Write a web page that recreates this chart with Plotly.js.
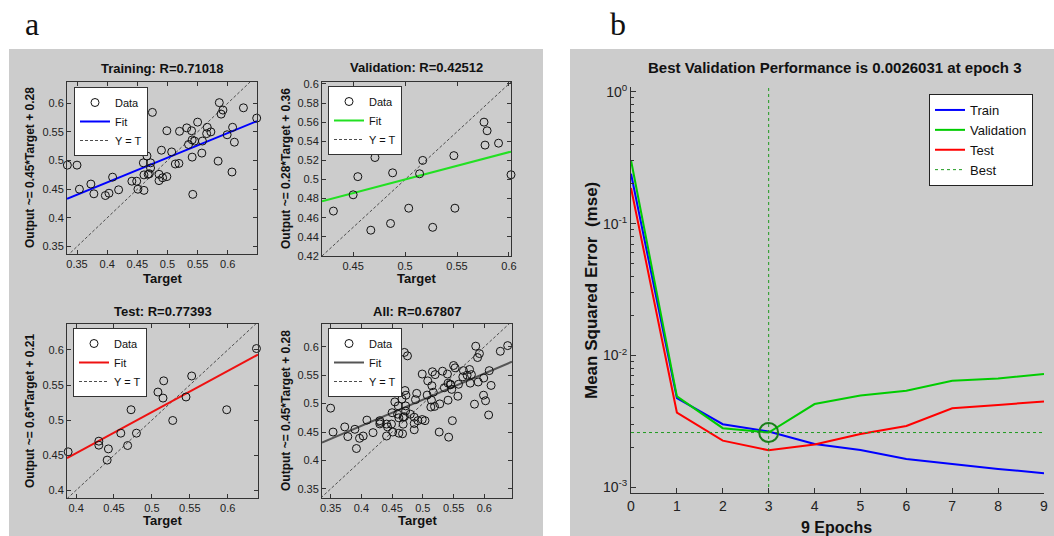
<!DOCTYPE html>
<html><head><meta charset="utf-8">
<script src="https://cdn.plot.ly/plotly-3.0.1.min.js"></script>
<style>html,body{margin:0;padding:0;background:#fff;}#chart{width:1054px;height:536px;}</style>
</head><body><div id="chart"></div>
<script>
// ---------------- DATA ----------------
// Training regression (Target, Output)
const trainTarget = [0.334,0.350,0.354,0.373,0.378,0.397,0.403,0.409,0.419,0.441,0.449,0.451,0.461,0.460,0.466,0.468,0.461,0.472,0.472,0.475,0.470,0.486,0.490,0.486,0.492,0.499,0.499,0.507,0.513,0.519,0.520,0.532,0.535,0.540,0.541,0.541,0.542,0.545,0.550,0.557,0.558,0.565,0.566,0.572,0.584,0.586,0.589,0.592,0.599,0.607,0.608,0.611,0.626,0.648];
const trainOutput = [0.492,0.492,0.450,0.459,0.442,0.439,0.443,0.471,0.449,0.464,0.464,0.450,0.448,0.496,0.508,0.476,0.475,0.487,0.496,0.584,0.477,0.476,0.518,0.465,0.470,0.472,0.552,0.515,0.494,0.495,0.551,0.557,0.528,0.552,0.536,0.506,0.441,0.534,0.567,0.513,0.534,0.547,0.558,0.550,0.499,0.601,0.581,0.588,0.545,0.480,0.558,0.532,0.592,0.574];
const trainFit = [0.43, 0.29];            // slope, intercept

// Validation regression
const valTarget = [0.431,0.450,0.450,0.4545,0.467,0.471,0.486,0.488,0.5035,0.514,0.517,0.5266,0.547,0.548,0.576,0.577,0.579,0.590,0.602];
const valOutput = [0.467,0.484,0.552,0.503,0.447,0.523,0.454,0.507,0.470,0.506,0.520,0.450,0.525,0.470,0.560,0.536,0.551,0.538,0.505];
const valFit = [0.286, 0.357];

// Test regression
const testTarget = [0.3895,0.430,0.430,0.4426,0.441,0.459,0.468,0.4725,0.4796,0.508,0.5156,0.5147,0.5275,0.545,0.5525,0.5987,0.638];
const testOutput = [0.4548,0.470,0.4643,0.459,0.443,0.4814,0.4638,0.5148,0.4814,0.540,0.556,0.5314,0.4995,0.533,0.5629,0.5148,0.602];
const testFit = [0.585, 0.219];

// All regression: union of the three sets plus points only seen in the "All" panel
const extraTarget = [0.392, 0.470];
const extraOutput = [0.421, 0.590];
const allFit = [0.46, 0.277];

const panelTitles = ['Training: R=0.71018','Validation: R=0.42512','Test: R=0.77393','All: R=0.67807'];
const panelYTitles = ['Output ~= 0.45*Target + 0.28','Output ~= 0.28*Target + 0.36','Output ~= 0.6*Target + 0.21','Output ~= 0.45*Target + 0.28'];
const legendNames = ['Data','Fit','Y = T'];

// Performance (mse per epoch)
const epochs = [0,1,2,3,4,5,6,7,8,9];
const trainPerf = [0.239,0.00474,0.00301,0.00265,0.00213,0.00192,0.00164,0.00150,0.00138,0.00128];
const valPerf   = [0.302,0.00489,0.00281,0.0026031,0.00428,0.00497,0.00540,0.00643,0.00668,0.00723];
const testPerf  = [0.186,0.00369,0.00226,0.00191,0.00211,0.00254,0.00292,0.00398,0.00422,0.00447];
const bestEpoch = 3;
const bestPerf = 0.0026031;
const perfNames = ['Train','Validation','Test','Best'];
const perfTitle = 'Best Validation Performance is 0.0026031 at epoch 3';
const perfYTitle = 'Mean Squared Error  (mse)';
const perfXTitle = '9 Epochs';
const logTickVals = [0.001,0.01,0.1,1];
const logTickText = ['10<sup>-3</sup>','10<sup>-2</sup>','10<sup>-1</sup>','10<sup>0</sup>'];

// ---------------- LAYOUT HELPERS ----------------
const W = 1054, H = 536;
const FONT = 'Liberation Sans, Arial, sans-serif';
const INK = '#1a1a1a';
const px = v => v / W;
const py = v => 1 - v / H;

function label(text, x, y, size, extra){
  return Object.assign({text:text, xref:'paper', yref:'paper', x:px(x), y:py(y), xanchor:'center', yanchor:'middle',
    showarrow:false, font:{family:FONT, size:size, color:'#111'}}, extra || {});
}

const panels = [
  {s:'',  box:{l:67, r:257,t:82, b:254}, xr:[0.3334,0.6485], yr:[0.337,0.637], xt:[0.35,0.05], yt:[0.35,0.05], leg:[74,87],
   T:trainTarget, O:trainOutput, fit:trainFit, color:'#0000ff', ytx:30, ty:68, xty:278},
  {s:'2', box:{l:322,r:511,t:82, b:256}, xr:[0.420,0.602], yr:[0.420,0.602], xt:[0.45,0.05], yt:[0.44,0.02], leg:[328,86],
   T:valTarget, O:valOutput, fit:valFit, color:'#22e022', ytx:286, ty:67, xty:278},
  {s:'3', box:{l:67, r:258,t:324,b:498}, xr:[0.388,0.640], yr:[0.389,0.637], xt:[0.4,0.05], yt:[0.4,0.05], leg:[73,328],
   T:testTarget, O:testOutput, fit:testFit, color:'#ee1111', ytx:30, ty:311, xty:520},
  {s:'4', box:{l:322,r:512,t:324,b:498}, xr:[0.336,0.645], yr:[0.334,0.640], xt:[0.35,0.05], yt:[0.35,0.05], leg:[328,328],
   T:trainTarget.concat(valTarget,testTarget,extraTarget), O:trainOutput.concat(valOutput,testOutput,extraOutput), fit:allFit, color:'#555555', ytx:286, ty:311, xty:520}
];

const traces = [];
const layout = {
  width: W, height: H, margin:{l:0,r:0,t:0,b:0},
  paper_bgcolor:'#ffffff', plot_bgcolor:'#ffffff',
  font:{family:FONT, color:INK},
  showlegend:true,
  shapes:[
    {type:'rect', xref:'paper', yref:'paper', x0:px(9), x1:px(543), y0:0, y1:py(49), fillcolor:'#cccccc', line:{width:0}, layer:'below'},
    {type:'rect', xref:'paper', yref:'paper', x0:px(570), x1:1, y0:0, y1:py(49), fillcolor:'#cccccc', line:{width:0}, layer:'below'}
  ],
  annotations:[
    label('a', 32, 24, 32, {font:{family:'Liberation Serif, Times New Roman, serif', size:32, color:'#111'}}),
    label('b', 618, 24, 32, {font:{family:'Liberation Serif, Times New Roman, serif', size:32, color:'#111'}})
  ]
};

function axisStyle(extra){
  return Object.assign({
    ticks:'inside', ticklen:4, tickwidth:1, tickcolor:'#333',
    showline:true, linecolor:'#333', linewidth:1, mirror:'ticks',
    showgrid:false, zeroline:false, fixedrange:true,
    tickfont:{family:FONT, size:11, color:'#222'}
  }, extra);
}

panels.forEach((p,i) => {
  const xa = 'x'+p.s, ya = 'y'+p.s;
  const legId = i === 0 ? 'legend' : 'legend'+(i+1);
  const lo = Math.min(p.xr[0], p.yr[0]), hi = Math.max(p.xr[1], p.yr[1]);
  // Y = T
  traces.push({type:'scatter', mode:'lines', x:[lo,hi], y:[lo,hi], xaxis:xa, yaxis:ya, legend:legId, legendrank:3,
    name:legendNames[2], line:{color:'#4d4d4d', width:1, dash:'3px,2px'}, hoverinfo:'skip'});
  // Fit
  traces.push({type:'scatter', mode:'lines', x:[p.xr[0],p.xr[1]], y:[p.fit[0]*p.xr[0]+p.fit[1], p.fit[0]*p.xr[1]+p.fit[1]],
    xaxis:xa, yaxis:ya, legend:legId, legendrank:2, name:legendNames[1], line:{color:p.color, width:2}, hoverinfo:'skip'});
  // Data
  traces.push({type:'scatter', mode:'markers', x:p.T, y:p.O, xaxis:xa, yaxis:ya, legend:legId, legendrank:1,
    name:legendNames[0], cliponaxis:false,
    marker:{symbol:'circle-open', size:8, color:'#111', line:{width:1, color:'#111'}}});

  layout['xaxis'+p.s] = axisStyle({domain:[px(p.box.l), px(p.box.r)], range:p.xr, tickmode:'linear', tick0:p.xt[0], dtick:p.xt[1], anchor:ya});
  layout['yaxis'+p.s] = axisStyle({domain:[py(p.box.b), py(p.box.t)], range:p.yr, tickmode:'linear', tick0:p.yt[0], dtick:p.yt[1], anchor:xa});

  layout[legId] = {x:px(p.leg[0]), y:py(p.leg[1]), xanchor:'left', yanchor:'top', bgcolor:'#ffffff',
    bordercolor:'#333', borderwidth:1, font:{family:FONT, size:11, color:'#111'}, traceorder:'normal',
    tracegroupgap:0, itemwidth:30};

  const cx = (p.box.l + p.box.r)/2;
  layout.annotations.push(label('<b>'+panelTitles[i]+'</b>', cx, p.ty, 13));
  layout.annotations.push(label('<b>Target</b>', cx, p.xty, 13));
  layout.annotations.push(label('<b>'+panelYTitles[i]+'</b>', p.ytx, (p.box.t+p.box.b)/2, 12, {textangle:-90}));
});

// ---------------- PERFORMANCE PANEL ----------------
const pb = {l:631, r:1044, t:87, b:493};
const yLogRange = [-3.043, 0.036];
const perfColors = ['#0000ff','#00cc00','#ff0000'];
[trainPerf, valPerf, testPerf].forEach((arr,k) => {
  traces.push({type:'scatter', mode:'lines', x:epochs, y:arr, xaxis:'x5', yaxis:'y5', legend:'legend5',
    name:perfNames[k], line:{color:perfColors[k], width:2}});
});
traces.push({type:'scatter', mode:'lines', x:[epochs[0], epochs[epochs.length-1]], y:[bestPerf,bestPerf], xaxis:'x5', yaxis:'y5',
  legend:'legend5', name:perfNames[3], line:{color:'#1f9a1f', width:1, dash:'3px,3px'}});
traces.push({type:'scatter', mode:'lines', x:[bestEpoch,bestEpoch], y:[Math.pow(10,yLogRange[0]), Math.pow(10,yLogRange[1])],
  xaxis:'x5', yaxis:'y5', showlegend:false, line:{color:'#1f9a1f', width:1, dash:'3px,3px'}});
traces.push({type:'scatter', mode:'markers', x:[bestEpoch], y:[bestPerf], xaxis:'x5', yaxis:'y5', showlegend:false, cliponaxis:false,
  marker:{symbol:'circle-open', size:19, color:'#1a7f1a', line:{width:2, color:'#1a7f1a'}}});

const minorVals = [];
[-3,-2,-1].forEach(d => { for (let k=2;k<=9;k++) minorVals.push(k*Math.pow(10,d)); });

layout.xaxis5 = axisStyle({domain:[px(pb.l), px(pb.r)], range:[0,9], tickmode:'linear', tick0:0, dtick:1, anchor:'y5',
  mirror:false, ticklen:5, tickfont:{family:FONT, size:14, color:'#222'}});
layout.yaxis5 = axisStyle({domain:[py(pb.b), py(pb.t)], type:'log', range:yLogRange, tickmode:'array',
  tickvals:logTickVals, ticktext:logTickText, anchor:'x5', mirror:false, ticklen:5,
  tickfont:{family:FONT, size:14, color:'#222'},
  minor:{tickmode:'array', tickvals:minorVals, ticks:'inside', ticklen:3, tickcolor:'#333', showgrid:false}});
layout.legend5 = {x:px(929), y:py(94), xanchor:'left', yanchor:'top', bgcolor:'#ffffff', bordercolor:'#222', borderwidth:1,
  font:{family:FONT, size:13, color:'#111'}, traceorder:'normal', itemwidth:30};

layout.annotations.push(label('<b>'+perfTitle+'</b>', 835, 67, 15));
layout.annotations.push(label('<b>'+perfYTitle+'</b>', 591, 291, 17, {textangle:-90}));
layout.annotations.push(label('<b>'+perfXTitle+'</b>', 836, 527, 16));

Plotly.newPlot('chart', traces, layout, {displayModeBar:false, staticPlot:true});
</script></body></html>
